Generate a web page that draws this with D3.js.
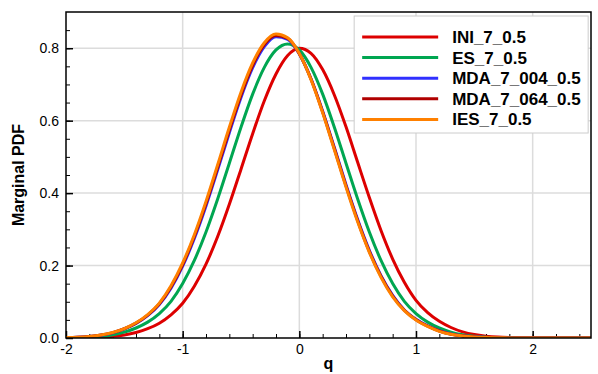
<!DOCTYPE html>
<html>
<head>
<meta charset="utf-8">
<script src="https://cdn.jsdelivr.net/npm/d3@7"></script>
<style>
  body { margin: 0; background: #fff; }
  svg { display: block; font-family: "Liberation Sans", Arial, sans-serif; }
  .tick text { font-size: 14px; fill: #000; font-family: "Liberation Sans", Arial, sans-serif; }
</style>
</head>
<body>
<div id="chart"></div>
<script>
// q grid (step 0.1)
var qValues = [-2.0, -1.9, -1.8, -1.7, -1.6, -1.5, -1.4, -1.3, -1.2, -1.1,
  -1.0, -0.9, -0.8, -0.7, -0.6, -0.5, -0.4, -0.3, -0.2, -0.1,
  0.0, 0.1, 0.2, 0.3, 0.4, 0.5, 0.6, 0.7, 0.8, 0.9,
  1.0, 1.1, 1.2, 1.3, 1.4, 1.5, 1.6, 1.7, 1.8, 1.9,
  2.0, 2.1, 2.2, 2.3, 2.4, 2.5];

// marginal pdf values
var ini = [0.0002, 0.0005, 0.0011, 0.0022, 0.0045, 0.0084, 0.0152, 0.0256, 0.0408, 0.064,
  0.096, 0.143, 0.204, 0.280, 0.369, 0.466, 0.564, 0.655, 0.729, 0.780,
  0.800, 0.786, 0.741, 0.671, 0.583, 0.485, 0.388, 0.297, 0.218, 0.154,
  0.104, 0.070, 0.046, 0.029, 0.017, 0.0094, 0.0051, 0.0026, 0.0013, 0.0006,
  0.0003, 0.0001, 0, 0, 0, 0];
var es = [0.0006, 0.0012, 0.0024, 0.0049, 0.0089, 0.0162, 0.0276, 0.0438, 0.0674, 0.1012,
  0.1503, 0.2141, 0.2926, 0.3837, 0.4825, 0.5819, 0.6732, 0.7471, 0.7953, 0.812,
  0.7953, 0.7471, 0.6732, 0.5819, 0.4825, 0.3837, 0.2926, 0.2141, 0.1503, 0.1012,
  0.0674, 0.0438, 0.0276, 0.0162, 0.0089, 0.0049, 0.0024, 0.0012, 0.0006, 0.0002,
  0, 0, 0, 0, 0, 0];
var mda004 = [0.0010, 0.0021, 0.0042, 0.0077, 0.0142, 0.0250, 0.0400, 0.0616, 0.0925, 0.1375,
  0.1984, 0.2746, 0.3645, 0.4641, 0.5668, 0.6640, 0.7461, 0.8042, 0.8314, 0.8246,
  0.7844, 0.7157, 0.6263, 0.5259, 0.4235, 0.3271, 0.2423, 0.1722, 0.1175, 0.0775,
  0.0516, 0.0333, 0.0200, 0.0108, 0.0060, 0.0032, 0.0016, 0.0007, 0.0003, 0.0001,
  0, 0, 0, 0, 0, 0];
var mda064 = [0.0010, 0.0022, 0.0044, 0.0081, 0.0147, 0.0255, 0.041, 0.063, 0.0944, 0.1408,
  0.2028, 0.280, 0.371, 0.471, 0.574, 0.671, 0.753, 0.810, 0.835, 0.827,
  0.785, 0.715, 0.624, 0.523, 0.420, 0.324, 0.239, 0.170, 0.116, 0.0766,
  0.0506, 0.0326, 0.0193, 0.0105, 0.0059, 0.0031, 0.0015, 0.0007, 0.0003, 0.0001,
  0, 0, 0, 0, 0, 0];
var ies = [0.0011, 0.0023, 0.0045, 0.0084, 0.0151, 0.026, 0.042, 0.0647, 0.0963, 0.1441,
  0.2071, 0.2853, 0.3772, 0.4783, 0.5818, 0.6787, 0.7594, 0.8152, 0.8393, 0.8289,
  0.7852, 0.7134, 0.6219, 0.5199, 0.4169, 0.3207, 0.2366, 0.1674, 0.1137, 0.0756,
  0.0496, 0.0319, 0.0185, 0.0101, 0.0057, 0.0029, 0.0014, 0.0007, 0.0003, 0.0001,
  0, 0, 0, 0, 0, 0];

var seriesNames = ['INI_7_0.5', 'ES_7_0.5', 'MDA_7_004_0.5', 'MDA_7_064_0.5', 'IES_7_0.5'];
var seriesValues = [ini, es, mda004, mda064, ies];
var seriesColors = ['#dd0000', '#00a651', '#3030ff', '#b00000', '#ff8000'];

var xTicks = [-2, -1, 0, 1, 2];
var yTicks = [0, 0.2, 0.4, 0.6, 0.8];

var svgWidth = 598;
var svgHeight = 374;
var margin = { top: 12, right: 7, bottom: 36, left: 66 };
var width = svgWidth - margin.left - margin.right;
var height = svgHeight - margin.top - margin.bottom;

var svg = d3.select('#chart').append('svg')
  .attr('width', svgWidth)
  .attr('height', svgHeight);

var chart = svg.append('g')
  .attr('transform', `translate(${margin.left},${margin.top})`);

var x = d3.scaleLinear().domain([-2, 2.5]).range([0, width]);
var y = d3.scaleLinear().domain([0, 0.9]).range([height, 0]);

// grid lines
chart.append('g').selectAll('line')
  .data(xTicks.slice(1))
  .enter().append('line')
  .attr('x1', d => x(d)).attr('x2', d => x(d))
  .attr('y1', 0).attr('y2', height)
  .attr('stroke', '#dcdcdc').attr('stroke-width', 1.5);

chart.append('g').selectAll('line')
  .data(yTicks.slice(1))
  .enter().append('line')
  .attr('x1', 0).attr('x2', width)
  .attr('y1', d => y(d)).attr('y2', d => y(d))
  .attr('stroke', '#dcdcdc').attr('stroke-width', 1.5);

// minor ticks
var xMinor = chart.append('g')
  .attr('transform', `translate(0,${height})`)
  .call(d3.axisBottom(x).tickValues(d3.range(-2, 2.51, 0.2)).tickSize(-4).tickFormat(''));
xMinor.select('.domain').remove();

var yMinor = chart.append('g')
  .call(d3.axisLeft(y).tickValues(d3.range(0, 0.9, 0.05)).tickSize(-4).tickFormat(''));
yMinor.select('.domain').remove();

// major ticks + labels
var xAxis = chart.append('g')
  .attr('transform', `translate(0,${height})`)
  .call(d3.axisBottom(x).tickValues(xTicks).tickSize(-7).tickPadding(6).tickFormat(d => String(d)));
xAxis.select('.domain').remove();
xAxis.selectAll('.tick line').attr('stroke-width', 1.5);

var yAxis = chart.append('g')
  .call(d3.axisLeft(y).tickValues(yTicks).tickSize(-7).tickPadding(7).tickFormat(d3.format('.1f')));
yAxis.select('.domain').remove();
yAxis.selectAll('.tick line').attr('stroke-width', 1.5);

// lines
chart.append('clipPath').attr('id', 'clip')
  .append('rect').attr('width', width).attr('height', height);

var line = d3.line()
  .x((d, i) => x(qValues[i]))
  .y(d => y(d))
  .curve(d3.curveMonotoneX);

chart.append('g').attr('clip-path', 'url(#clip)')
  .selectAll('path')
  .data(seriesValues)
  .enter().append('path')
  .attr('d', d => line(d))
  .attr('fill', 'none')
  .attr('stroke', (d, i) => seriesColors[i])
  .attr('stroke-width', 3)
  .attr('stroke-linejoin', 'round');

// frame
chart.append('rect')
  .attr('width', width).attr('height', height)
  .attr('fill', 'none').attr('stroke', '#000').attr('stroke-width', 1.5);

// legend
var legend = chart.append('g').attr('transform', `translate(${x(0.47)},${4})`);
legend.append('rect')
  .attr('width', 234).attr('height', 117)
  .attr('fill', '#fff').attr('stroke', '#cccccc').attr('stroke-width', 1);

var items = legend.selectAll('.item')
  .data(seriesNames)
  .enter().append('g')
  .attr('transform', (d, i) => `translate(0,${21 + i * 20.6})`);

items.append('line')
  .attr('x1', 8).attr('x2', 84)
  .attr('stroke', (d, i) => seriesColors[i])
  .attr('stroke-width', 3);

items.append('text')
  .attr('x', 98).attr('y', 6)
  .attr('font-size', '17px').attr('font-weight', 'bold')
  .text(d => d);

// axis labels
chart.append('text')
  .attr('transform', `translate(${18 - margin.left},${height / 2}) rotate(-90)`)
  .attr('text-anchor', 'middle')
  .attr('dy', '0.35em')
  .attr('font-size', '16px').attr('font-weight', 'bold')
  .text('Marginal PDF');

chart.append('text')
  .attr('x', width / 2).attr('y', height + 31)
  .attr('text-anchor', 'middle')
  .attr('font-size', '16px').attr('font-weight', 'bold')
  .text('q');
</script>
</body>
</html>
